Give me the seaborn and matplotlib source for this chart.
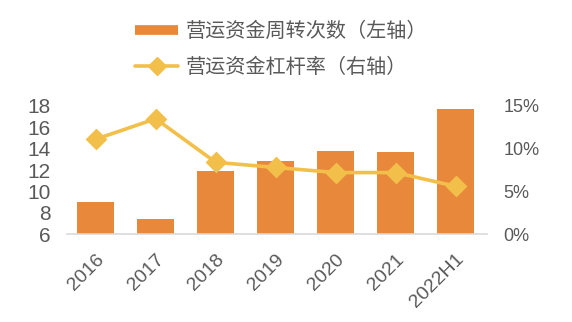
import matplotlib
matplotlib.use("Agg")
import matplotlib.pyplot as plt
from matplotlib.lines import Line2D
from matplotlib.ticker import FuncFormatter
import seaborn as sns
import pandas as pd

years = ["2016", "2017", "2018", "2019", "2020", "2021", "2022H1"]
turnover = [9.0, 7.4, 11.9, 12.8, 13.75, 13.7, 17.75]       # 营运资金周转次数
leverage = [11.1, 13.5, 8.4, 7.8, 7.2, 7.2, 5.6]           # 营运资金杠杆率 (%)
left_ticks = [6, 8, 10, 12, 14, 16, 18]
right_ticks = [0, 5, 10, 15]

bar_color = "#E8883B"
line_color = "#F2C04A"
text_color = "#595959"

sns.set_theme(style="white")
plt.rcParams["font.family"] = ["Liberation Sans", "Noto Sans CJK SC", "DejaVu Sans"]

df = pd.DataFrame({"year": years, "turnover": turnover, "leverage": leverage})

fig = plt.figure(figsize=(5.72, 3.22), dpi=100)
ax = fig.add_axes([0.117, 0.273, 0.734, 0.398])
ax2 = ax.twinx()

sns.barplot(data=df, x="year", y="turnover", ax=ax, color=bar_color,
            saturation=1, width=0.62, edgecolor="none")
sns.pointplot(data=df, x="year", y="leverage", ax=ax2, color=line_color,
              markers="D", markersize=9, linewidth=2.6)

ax.set_ylim(6, 18)
ax.set_yticks(left_ticks)
ax2.set_ylim(0, 15)
ax2.set_yticks(right_ticks)
ax2.yaxis.set_major_formatter(FuncFormatter(lambda v, p: f"{v:.0f}%"))
ax.set_xlim(-0.48, 6.52)

for a in (ax, ax2):
    for s in a.spines.values():
        s.set_visible(False)
    a.set_xlabel("")
    a.set_ylabel("")
    a.grid(False)
ax.spines["bottom"].set_visible(True)
ax.spines["bottom"].set_color("#D9D9D9")
ax.spines["bottom"].set_linewidth(1.2)

ax.tick_params(axis="y", length=0, pad=12, labelsize=15, labelcolor=text_color)
ax2.tick_params(axis="y", length=0, pad=12, labelsize=13, labelcolor=text_color)
ax.tick_params(axis="x", length=0, pad=12, labelsize=14, labelcolor=text_color)
for lbl in ax.get_xticklabels():
    lbl.set_rotation(45)
    lbl.set_ha("right")
    lbl.set_rotation_mode("anchor")

handles = [
    Line2D([0], [0], color=bar_color, lw=7, solid_capstyle="butt"),
    Line2D([0], [0], color=line_color, lw=2.6, marker="D", markersize=9),
]
labels = ["营运资金周转次数（左轴）", "营运资金杠杆率（右轴）"]
leg = fig.legend(handles, labels, loc="upper left", bbox_to_anchor=(0.2045, 0.99),
                 frameon=False, fontsize=14.5, handlelength=2.15, handletextpad=0.35,
                 labelspacing=0.85, labelcolor=text_color)

fig.savefig("out.png", dpi=100)
